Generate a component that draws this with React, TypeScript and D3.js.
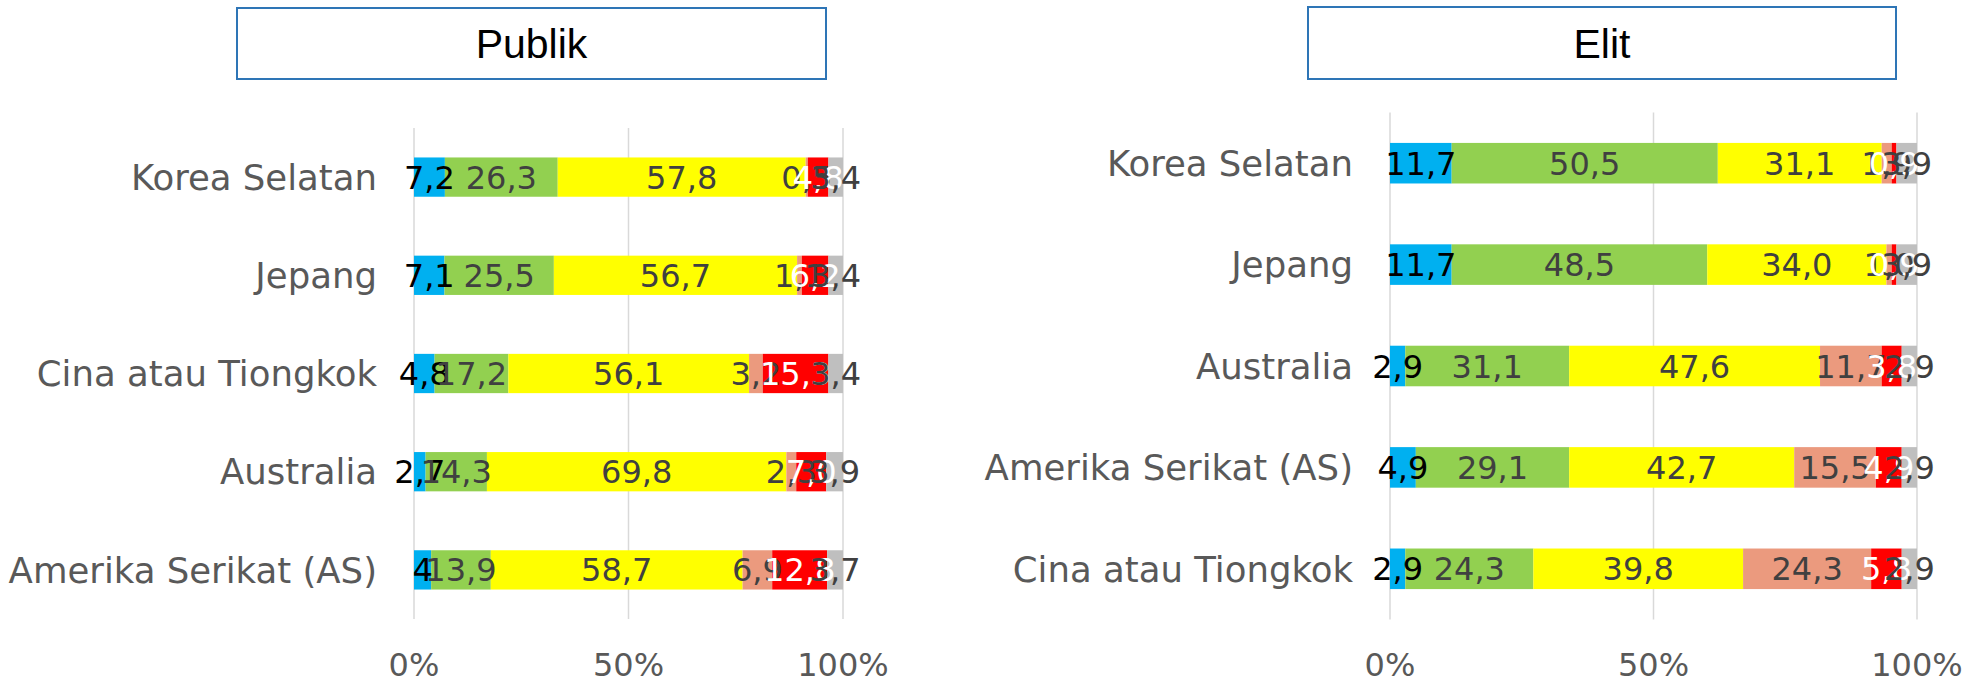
import React from "react";
import * as d3 from "d3";

// ---------- data (values as printed, Indonesian decimal comma) ----------
const seriesKeys = ["s1", "s2", "s3", "s4", "s5", "s6"];
const seriesColors = ["#00B0F0", "#92D050", "#FFFF00", "#EB9A7E", "#FF0000", "#BFBFBF"];
const labelColors = ["#000000", "#404040", "#404040", "#404040", "#FFFFFF", "#404040"];

const publikCategories = ["Korea Selatan", "Jepang", "Cina atau Tiongkok", "Australia", "Amerika Serikat (AS)"];
const publikValues = [
  ["7,2", "26,3", "57,8", "0,5", "4,8", "3,4"],
  ["7,1", "25,5", "56,7", "1,1", "6,2", "3,4"],
  ["4,8", "17,2", "56,1", "3,2", "15,3", "3,4"],
  ["2,7", "14,3", "69,8", "2,3", "7,0", "3,9"],
  ["4", "13,9", "58,7", "6,9", "12,8", "3,7"],
];

const elitCategories = ["Korea Selatan", "Jepang", "Australia", "Amerika Serikat (AS)", "Cina atau Tiongkok"];
const elitValues = [
  ["11,7", "50,5", "31,1", "1,9", "0,9", "3,9"],
  ["11,7", "48,5", "34,0", "1,0", "0,9", "3,9"],
  ["2,9", "31,1", "47,6", "11,7", "3,8", "2,9"],
  ["4,9", "29,1", "42,7", "15,5", "4,9", "2,9"],
  ["2,9", "24,3", "39,8", "24,3", "5,8", "2,9"],
];

const tickValues = [0, 0.5, 1];
const tickLabels = ["0%", "50%", "100%"];

const W = 1988;
const H = 685;
const FONT = "'DejaVu Sans', sans-serif";
const TEXT_GRAY = "#595959";

type PanelProps = {
  title: string;
  categories: string[];
  values: string[][];
  x0: number;
  x1: number;
  yTop: number;
  yBottom: number;
  box: [number, number, number, number];
};

const parse = (s: string) => parseFloat(s.replace(",", "."));

function Panel({ title, categories, values, x0, x1, yTop, yBottom, box }: PanelProps) {
  const rows = categories.map((c, i) => {
    const r: any = { cat: c };
    seriesKeys.forEach((k, j) => {
      r[k] = parse(values[i][j]);
    });
    return r;
  });
  const stacked = d3.stack<any>().keys(seriesKeys).offset(d3.stackOffsetExpand)(rows);
  const x = d3.scaleLinear().domain([0, 1]).range([x0, x1]);
  const y = d3
    .scaleBand<string>()
    .domain(categories)
    .range([yTop, yBottom])
    .paddingInner(0.6)
    .paddingOuter(0.3);
  const bw = y.bandwidth();

  return (
    <g>
      <rect
        x={box[0]}
        y={box[1]}
        width={box[2]}
        height={box[3]}
        fill="#FFFFFF"
        stroke="#2E75B6"
        strokeWidth={2}
      />
      <text
        x={box[0] + box[2] / 2}
        y={box[1] + box[3] / 2}
        dy="0.36em"
        textAnchor="middle"
        fontFamily="'Liberation Sans', Arial, sans-serif"
        fontSize={41}
        fill="#000000"
      >
        {title}
      </text>
      {tickValues.map((t, i) => (
        <g key={"t" + i}>
          <line x1={x(t)} x2={x(t)} y1={yTop} y2={yBottom} stroke="#D9D9D9" strokeWidth={1.5} />
          <text
            x={x(t)}
            y={664}
            dy="0.36em"
            textAnchor="middle"
            fontFamily={FONT}
            fontSize={32}
            fill={TEXT_GRAY}
          >
            {tickLabels[i]}
          </text>
        </g>
      ))}
      {categories.map((c) => (
        <text
          key={"c" + c}
          x={x0 - 37}
          y={(y(c) as number) + bw / 2}
          dy="0.36em"
          textAnchor="end"
          fontFamily={FONT}
          fontSize={35.5}
          fill={TEXT_GRAY}
        >
          {c}
        </text>
      ))}
      {stacked.map((s, si) => (
        <g key={"s" + si}>
          {s.map((d, di) => (
            <rect
              key={di}
              x={x(d[0])}
              y={y(d.data.cat) as number}
              width={Math.max(0, x(d[1]) - x(d[0]))}
              height={bw}
              fill={seriesColors[si]}
            />
          ))}
        </g>
      ))}
      {stacked.map((s, si) => (
        <g key={"l" + si}>
          {s.map((d, di) => (
            <text
              key={di}
              x={(x(d[0]) + x(d[1])) / 2}
              y={(y(d.data.cat) as number) + bw / 2}
              dy="0.36em"
              textAnchor="middle"
              fontFamily={FONT}
              fontSize={32}
              fill={labelColors[si]}
            >
              {values[di][si]}
            </text>
          ))}
        </g>
      ))}
    </g>
  );
}

export default function App() {
  return (
    <svg
      width={W}
      height={H}
      viewBox={`0 0 ${W} ${H}`}
      style={{ position: "absolute", left: 0, top: 0, background: "#FFFFFF" }}
    >
      <rect x={0} y={0} width={W} height={H} fill="#FFFFFF" />
      <Panel
        title="Publik"
        categories={publikCategories}
        values={publikValues}
        x0={414}
        x1={843}
        yTop={128}
        yBottom={619}
        box={[237, 8, 589, 71]}
      />
      <Panel
        title="Elit"
        categories={elitCategories}
        values={elitValues}
        x0={1390}
        x1={1917}
        yTop={112.5}
        yBottom={619.5}
        box={[1308, 7, 588, 72]}
      />
    </svg>
  );
}
